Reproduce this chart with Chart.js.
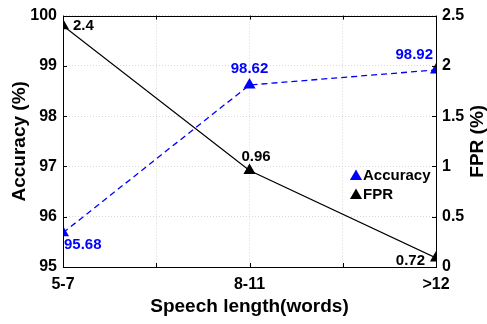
<!DOCTYPE html>
<html>
<head>
<meta charset="utf-8">
<script src="https://cdn.jsdelivr.net/npm/chart.js@4"></script>
<style>
  html, body { margin: 0; padding: 0; background: #fff; }
  #wrap { width: 487px; height: 324px; }
</style>
</head>
<body>
<div id="wrap"><canvas id="chart1"></canvas></div>
<script>
// data
const categories = ['5-7', '8-11', '>12'];
const xPos = [1, 2, 3];
const accuracy = [95.68, 98.62, 98.92];
const fpr = [2.4, 0.96, 0.09];
const accuracyLabels = ['95.68', '98.62', '98.92'];
const fprLabels = ['2.4', '0.96', '0.72'];
const leftTicks = [95, 96, 97, 98, 99, 100];
const rightTicks = [0, 0.5, 1, 1.5, 2, 2.5];

const FONT = '"Liberation Sans", Arial, sans-serif';
const BLUE = '#0000ff';

// label placement next to each point: [dx, dy, align]
const accOffsets = [[1, 12, 'left'], [0, -16, 'center'], [-3, -15, 'right']];
const fprOffsets = [[10, 0, 'left'], [-8, -14, 'left'], [-11, 3, 'right']];

function triangle(ctx, x, y, r, color) {
    ctx.fillStyle = color;
    ctx.beginPath();
    ctx.moveTo(x, y - r);
    ctx.lineTo(x + r * 0.866, y + r * 0.5);
    ctx.lineTo(x - r * 0.866, y + r * 0.5);
    ctx.closePath();
    ctx.fill();
}

const decorPlugin = {
    id: 'decor',
    afterDatasetsDraw(chart) {
        const ctx = chart.ctx;
        const a = chart.chartArea;
        const x = chart.scales.x, yl = chart.scales.y, yr = chart.scales.y1;
        ctx.save();

        // inward tick marks
        ctx.strokeStyle = '#000';
        ctx.lineWidth = 1;
        ctx.beginPath();
        x.ticks.forEach(t => {
            const px = Math.round(x.getPixelForValue(t.value)) + 0.5;
            ctx.moveTo(px, a.bottom); ctx.lineTo(px, a.bottom - 4);
            ctx.moveTo(px, a.top); ctx.lineTo(px, a.top + 4);
        });
        yl.ticks.forEach(t => {
            const py = Math.round(yl.getPixelForValue(t.value)) + 0.5;
            ctx.moveTo(a.left, py); ctx.lineTo(a.left + 4, py);
        });
        yr.ticks.forEach(t => {
            const py = Math.round(yr.getPixelForValue(t.value)) + 0.5;
            ctx.moveTo(a.right, py); ctx.lineTo(a.right - 4, py);
        });
        ctx.stroke();

        // box
        ctx.strokeRect(Math.round(a.left) + 0.5, Math.round(a.top) + 0.5,
            Math.round(a.right - a.left), Math.round(a.bottom - a.top));

        // value labels
        ctx.font = 'bold 15px ' + FONT;
        ctx.textBaseline = 'middle';
        chart.getDatasetMeta(0).data.forEach((pt, i) => {
            const o = accOffsets[i];
            ctx.fillStyle = BLUE;
            ctx.textAlign = o[2];
            ctx.fillText(accuracyLabels[i], pt.x + o[0], pt.y + o[1]);
        });
        chart.getDatasetMeta(1).data.forEach((pt, i) => {
            const o = fprOffsets[i];
            ctx.fillStyle = '#000';
            ctx.textAlign = o[2];
            ctx.fillText(fprLabels[i], pt.x + o[0], pt.y + o[1]);
        });

        // legend inside the plot
        const lx = a.right - 80, ly = a.top + 160;
        ctx.font = 'bold 15px ' + FONT;
        ctx.textAlign = 'left';
        chart.data.datasets.forEach((ds, i) => {
            const cy = ly + i * 19;
            triangle(ctx, lx, cy + 1, 7, ds.pointBackgroundColor);
            ctx.fillStyle = '#000';
            ctx.fillText(ds.label, lx + 7, cy);
        });

        // right axis title, reading bottom to top
        ctx.font = 'bold 19px ' + FONT;
        ctx.textAlign = 'center';
        ctx.fillStyle = '#000';
        ctx.translate(478, (a.top + a.bottom) / 2);
        ctx.rotate(-Math.PI / 2);
        ctx.fillText('FPR (%)', 0, 0);
        ctx.restore();
    }
};

const tickFont = {family: FONT, size: 16, weight: 'bold'};
const titleFont = {family: FONT, size: 19, weight: 'bold'};

new Chart(document.querySelector('#chart1'), {
    type: 'line',
    data: {
        datasets: [{
            label: 'Accuracy',
            data: xPos.map((v, i) => ({x: v, y: accuracy[i]})),
            yAxisID: 'y',
            borderColor: BLUE,
            borderWidth: 1.3,
            borderDash: [6, 4],
            pointStyle: 'triangle',
            pointRadius: 7,
            pointBorderWidth: 0,
            pointBackgroundColor: BLUE,
            pointBorderColor: BLUE
        }, {
            label: 'FPR',
            data: xPos.map((v, i) => ({x: v, y: fpr[i]})),
            yAxisID: 'y1',
            borderColor: '#000',
            borderWidth: 1.2,
            pointStyle: 'triangle',
            pointRadius: 7,
            pointBorderWidth: 0,
            pointBackgroundColor: '#000',
            pointBorderColor: '#000'
        }]
    },
    options: {
        responsive: true,
        maintainAspectRatio: false,
        animation: false,
        layout: {padding: {top: 11, left: 0, right: 0, bottom: 0}},
        plugins: {
            legend: {display: false},
            tooltip: {enabled: false}
        },
        scales: {
            x: {
                type: 'linear',
                min: 1, max: 3,
                afterBuildTicks: s => { s.ticks = [1, 1.5, 2, 2.5, 3].map(v => ({value: v})); },
                afterFit: s => { s.height = 57; },
                ticks: {
                    autoSkip: false,
                    maxRotation: 0,
                    padding: 8,
                    color: '#000',
                    font: tickFont,
                    callback: v => (Number.isInteger(v) ? categories[v - 1] : '')
                },
                grid: {color: '#d8d8d8', lineWidth: 1, drawTicks: false},
                border: {display: false, dash: [1, 2]},
                title: {
                    display: true,
                    text: 'Speech length(words)',
                    color: '#000',
                    font: titleFont,
                    padding: {top: 0, bottom: 6}
                }
            },
            y: {
                position: 'left',
                min: 95, max: 100,
                afterBuildTicks: s => { s.ticks = leftTicks.map(v => ({value: v})); },
                afterFit: s => { s.width = 63; },
                ticks: {
                    padding: 6,
                    color: '#000',
                    font: tickFont
                },
                grid: {color: '#d8d8d8', lineWidth: 1, drawTicks: false},
                border: {display: false, dash: [1, 2]},
                title: {
                    display: true,
                    text: 'Accuracy (%)',
                    color: '#000',
                    font: titleFont,
                    padding: {top: 8, bottom: 0}
                }
            },
            y1: {
                position: 'right',
                min: 0, max: 2.5,
                afterBuildTicks: s => { s.ticks = rightTicks.map(v => ({value: v})); },
                afterFit: s => { s.width = 51; },
                ticks: {
                    padding: 6,
                    color: '#000',
                    font: tickFont,
                    callback: v => String(v)
                },
                grid: {display: false, drawTicks: false},
                border: {display: false}
            }
        }
    },
    plugins: [decorPlugin]
});
</script>
</body>
</html>
